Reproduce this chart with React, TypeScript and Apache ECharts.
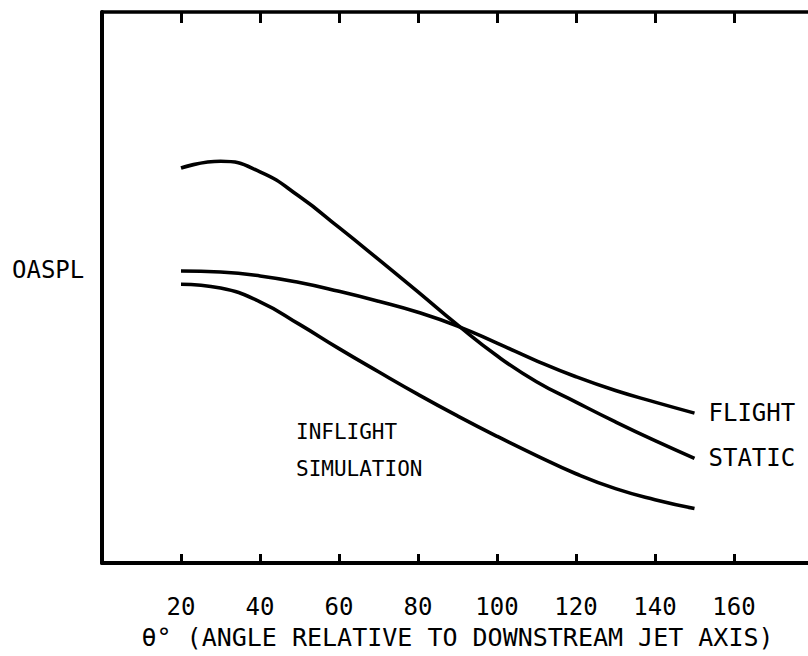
import React, { useEffect, useRef } from "react";
import * as echarts from "echarts";

const theta = [20, 30, 40, 50, 60, 70, 80, 90, 100, 110, 120, 130, 140, 150];
const staticOaspl = [71.7, 72.9, 71.0, 66.5, 60.9, 55.1, 49.2, 43.2, 37.6, 32.9, 29.2, 25.6, 22.2, 19.0];
const flightOaspl = [53.0, 52.8, 52.1, 50.9, 49.3, 47.5, 45.5, 43.0, 39.9, 36.7, 33.8, 31.3, 29.2, 27.2];
const inflightOaspl = [50.6, 49.9, 47.4, 43.3, 38.9, 34.7, 30.6, 26.7, 23.0, 19.5, 16.2, 13.5, 11.5, 9.9];
const tickLabels = ["20", "40", "60", "80", "100", "120", "140", "160"];

const FONT = "DejaVu Sans Mono";

export default function App() {
  const ref = useRef<HTMLDivElement>(null);
  useEffect(() => {
    if (!ref.current) return;
    const chart = echarts.init(ref.current, null, { renderer: "svg" });
    const lineStyle = { color: "#000", width: 3.6 };
    chart.setOption({
      animation: false,
      backgroundColor: "#fff",
      grid: { left: 102, top: 12, bottom: 93, right: -5, outerBoundsMode: "none", containLabel: false },
      xAxis: [
        {
          type: "value",
          min: 0,
          max: 180,
          interval: 20,
          position: "bottom",
          axisLine: { show: true, lineStyle: { color: "#000", width: 4 } },
          axisTick: { show: true, inside: true, length: 9, lineStyle: { color: "#000", width: 3 } },
          splitLine: { show: false },
          axisLabel: {
            color: "#000",
            fontFamily: FONT,
            fontSize: 24,
            margin: 32,
            formatter: (v: number) => (tickLabels.includes(String(v)) ? String(v) : ""),
          },
          name: "θ° (ANGLE RELATIVE TO DOWNSTREAM JET AXIS)",
          nameLocation: "middle",
          nameGap: 62,
          nameTextStyle: { color: "#000", fontFamily: FONT, fontSize: 25 },
        },
        {
          type: "value",
          min: 0,
          max: 180,
          interval: 20,
          position: "top",
          axisLine: { show: true, lineStyle: { color: "#000", width: 3.5 } },
          axisTick: { show: true, inside: true, length: 11, lineStyle: { color: "#000", width: 3 } },
          splitLine: { show: false },
          axisLabel: { show: false },
        },
      ],
      yAxis: {
        type: "value",
        min: 0,
        max: 100,
        axisLine: { show: true, lineStyle: { color: "#000", width: 4 } },
        axisTick: { show: false },
        axisLabel: { show: false },
        splitLine: { show: false },
      },
      graphic: [
        {
          type: "text",
          left: 12,
          top: 258,
          style: { text: "OASPL", fill: "#000", font: `24px '${FONT}'` },
        },
        {
          type: "text",
          left: 296,
          top: 413,
          style: {
            text: "INFLIGHT\nSIMULATION",
            fill: "#000",
            font: `21px '${FONT}'`,
            lineHeight: 37,
          },
        },
      ],
      series: [
        {
          name: "STATIC",
          type: "line",
          smooth: 0.5,
          symbol: "none",
          lineStyle,
          data: theta.map((t, i) => [t, staticOaspl[i]]),
          endLabel: {
            show: true,
            formatter: "{a}",
            distance: 14,
            color: "#000",
            fontFamily: FONT,
            fontSize: 24,
          },
        },
        {
          name: "FLIGHT",
          type: "line",
          smooth: 0.5,
          symbol: "none",
          lineStyle,
          data: theta.map((t, i) => [t, flightOaspl[i]]),
          endLabel: {
            show: true,
            formatter: "{a}",
            distance: 14,
            color: "#000",
            fontFamily: FONT,
            fontSize: 24,
          },
        },
        {
          name: "INFLIGHT SIMULATION",
          type: "line",
          smooth: 0.5,
          symbol: "none",
          lineStyle,
          data: theta.map((t, i) => [t, inflightOaspl[i]]),
        },
      ],
    });
    return () => chart.dispose();
  }, []);
  return (
    <div
      ref={ref}
      style={{ position: "fixed", left: 0, top: 0, width: 808, height: 656, background: "#fff" }}
    />
  );
}
